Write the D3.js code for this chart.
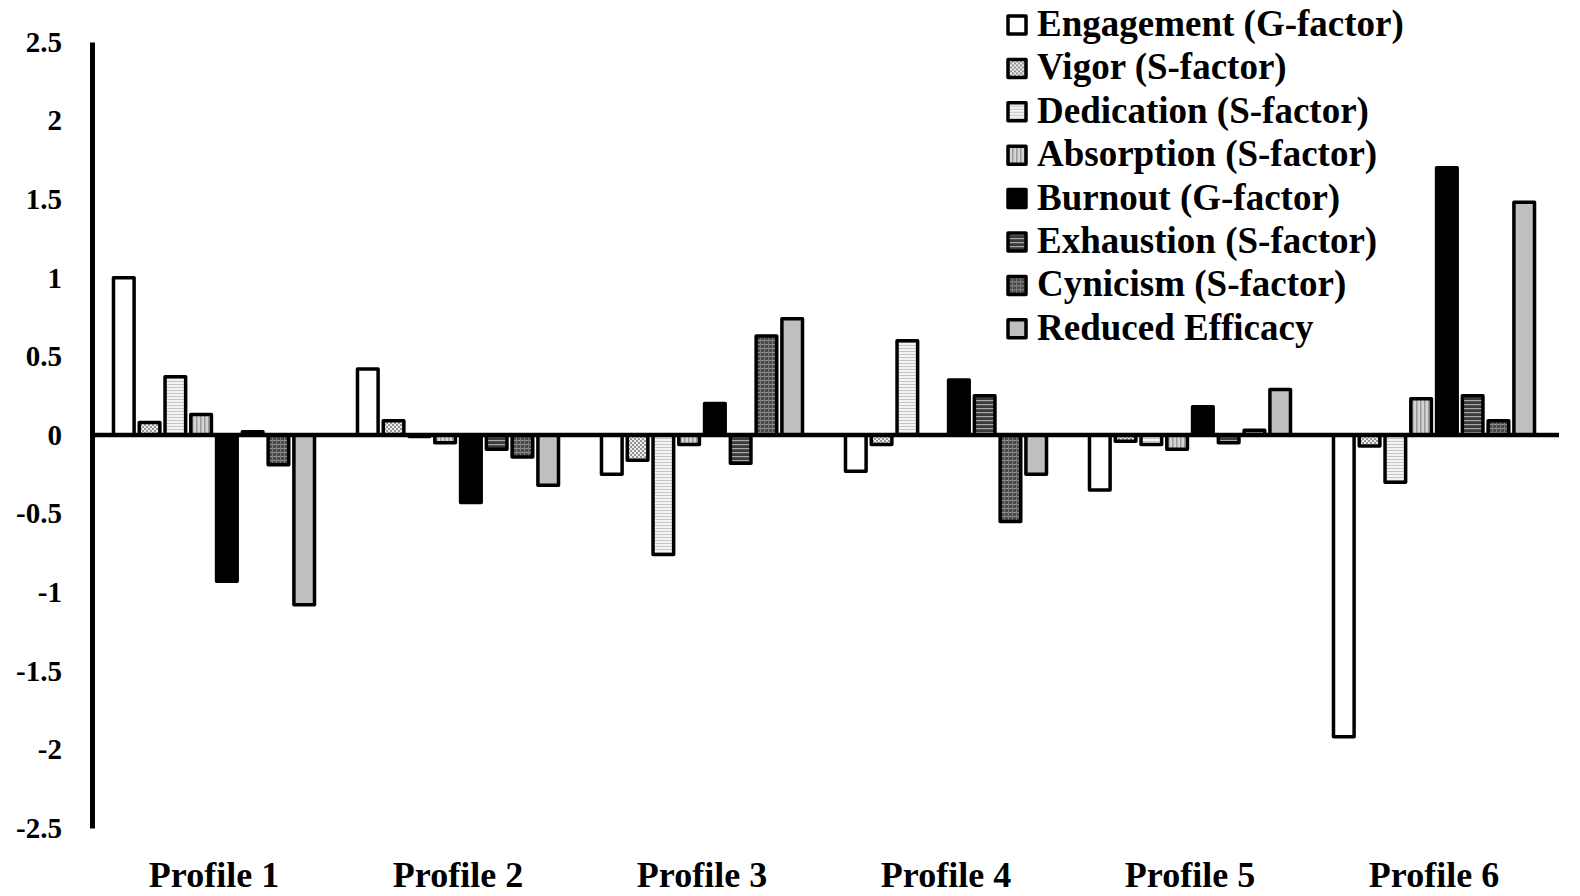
<!DOCTYPE html>
<html>
<head>
<meta charset="utf-8">
<script src="https://cdn.jsdelivr.net/npm/d3@7"></script>
<style>
  body { margin: 0; background: #fff; }
  text { font-family: "Liberation Serif", "Times New Roman", serif; font-weight: bold; fill: #000; }
</style>
</head>
<body>
<div id="chart"></div>
<script>
// profiles (x categories)
var profiles = ["Profile 1", "Profile 2", "Profile 3", "Profile 4", "Profile 5", "Profile 6"];
// series names, in legend order
var series = ["Engagement (G-factor)", "Vigor (S-factor)", "Dedication (S-factor)", "Absorption (S-factor)",
              "Burnout (G-factor)", "Exhaustion (S-factor)", "Cynicism (S-factor)", "Reduced Efficacy"];
// values per series, one per profile
var engagement = [1.00, 0.42, -0.25, -0.23, -0.35, -1.92];
var vigor      = [0.08, 0.09, -0.16, -0.06, -0.04, -0.07];
var dedication = [0.37, -0.01, -0.76, 0.60, -0.06, -0.30];
var absorption = [0.13, -0.05, -0.06, 0.00, -0.09, 0.23];
var burnout    = [-0.93, -0.43, 0.20, 0.35, 0.18, 1.70];
var exhaustion = [0.02, -0.09, -0.18, 0.25, -0.05, 0.25];
var cynicism   = [-0.19, -0.14, 0.63, -0.55, 0.03, 0.09];
var reduced    = [-1.08, -0.32, 0.74, -0.25, 0.29, 1.48];
var yTicks = [2.5, 2, 1.5, 1, 0.5, 0, -0.5, -1, -1.5, -2, -2.5];

var allValues = [engagement, vigor, dedication, absorption, burnout, exhaustion, cynicism, reduced];
var fills = ["#ffffff", "url(#p_vigor)", "url(#p_ded)", "url(#p_abs)", "#000000", "url(#p_exh)", "url(#p_cyn)", "#bfbfbf"];

var W = 1580, H = 896;
var svg = d3.select("#chart").append("svg").attr("width", W).attr("height", H);

// fill patterns, roughly like the old office hatches
var defs = svg.append("defs");
var p = defs.append("pattern").attr("id", "p_vigor").attr("patternUnits", "userSpaceOnUse").attr("width", 4).attr("height", 4);
p.append("rect").attr("width", 4).attr("height", 4).attr("fill", "#ececec");
p.append("rect").attr("width", 2).attr("height", 2).attr("fill", "#959595");
p.append("rect").attr("x", 2).attr("y", 2).attr("width", 2).attr("height", 2).attr("fill", "#959595");

p = defs.append("pattern").attr("id", "p_ded").attr("patternUnits", "userSpaceOnUse").attr("width", 4).attr("height", 3);
p.append("rect").attr("width", 4).attr("height", 3).attr("fill", "#f4f4f4");
p.append("rect").attr("width", 4).attr("height", 1).attr("fill", "#c4c4c4");

p = defs.append("pattern").attr("id", "p_abs").attr("patternUnits", "userSpaceOnUse").attr("width", 4).attr("height", 4);
p.append("rect").attr("width", 4).attr("height", 4).attr("fill", "#d4d4d4");
p.append("rect").attr("width", 1.5).attr("height", 4).attr("fill", "#9a9a9a");

p = defs.append("pattern").attr("id", "p_exh").attr("patternUnits", "userSpaceOnUse").attr("width", 4).attr("height", 4);
p.append("rect").attr("width", 4).attr("height", 4).attr("fill", "#3a3a3a");
p.append("rect").attr("width", 4).attr("height", 1.2).attr("fill", "#a8a8a8");

p = defs.append("pattern").attr("id", "p_cyn").attr("patternUnits", "userSpaceOnUse").attr("width", 4).attr("height", 4);
p.append("rect").attr("width", 4).attr("height", 4).attr("fill", "#4a4a4a");
p.append("rect").attr("width", 4).attr("height", 1).attr("fill", "#909090");
p.append("rect").attr("width", 1).attr("height", 4).attr("fill", "#7a7a7a");

// plot box (window.top is reserved, so other names)
var mLeft = 92, mRight = 1556, mTop = 42, mBottom = 828;

var x0 = d3.scaleBand().domain(profiles).range([mLeft, mRight]).paddingInner(0.155).paddingOuter(0.0775);
var x1 = d3.scaleBand().domain(d3.range(series.length)).range([0, x0.bandwidth()]).paddingInner(0.2).paddingOuter(0.1);
var y = d3.scaleLinear().domain([-2.5, 2.5]).range([mBottom, mTop]);

// bars
var data = [];
profiles.forEach(function(pr, i) {
  allValues.forEach(function(arr, s) {
    data.push({ profile: pr, s: s, v: arr[i] });
  });
});

svg.append("g").selectAll("rect").data(data).enter().append("rect")
  .attr("x", function(d) { return x0(d.profile) + x1(d.s); })
  .attr("y", function(d) { return y(Math.max(0, d.v)); })
  .attr("width", x1.bandwidth())
  .attr("height", function(d) { return Math.abs(y(d.v) - y(0)); })
  .attr("fill", function(d) { return fills[d.s]; })
  .attr("stroke", "#000")
  .attr("stroke-width", 3.5)
  .attr("stroke-linejoin", "round");

// zero line
svg.append("line")
  .attr("x1", mLeft).attr("x2", mRight + 3)
  .attr("y1", y(0)).attr("y2", y(0))
  .attr("stroke", "#000").attr("stroke-width", 4.5);

// y axis, plain hyphen for negatives like the original
var yAxis = d3.axisLeft(y).tickValues(yTicks).tickSize(0).tickPadding(30)
  .tickFormat(function(d) { return String(d); });
var ga = svg.append("g").attr("transform", "translate(" + mLeft + ",0)").call(yAxis);
ga.select(".domain").attr("stroke", "#000").attr("stroke-width", 5);
ga.selectAll("text").style("font-size", "29px").style("font-family", "'Liberation Serif', serif").style("font-weight", "bold");

// category labels
svg.append("g").selectAll("text").data(profiles).enter().append("text")
  .attr("x", function(d) { return x0(d) + x0.bandwidth() / 2; })
  .attr("y", 887)
  .attr("text-anchor", "middle")
  .style("font-size", "36px")
  .text(function(d) { return d; });

// legend
var lg = svg.append("g").attr("transform", "translate(1008,0)");
var item = lg.selectAll("g").data(series).enter().append("g")
  .attr("transform", function(d, i) { return "translate(0," + (25 + i * 43.4) + ")"; });
item.append("rect")
  .attr("x", 0).attr("y", -9).attr("width", 18).attr("height", 18)
  .attr("fill", function(d, i) { return fills[i]; })
  .attr("stroke", "#000").attr("stroke-width", 3.5).attr("stroke-linejoin", "round");
item.append("text")
  .attr("x", 29).attr("y", 11)
  .style("font-size", "37px")
  .text(function(d) { return d; });
</script>
</body>
</html>
